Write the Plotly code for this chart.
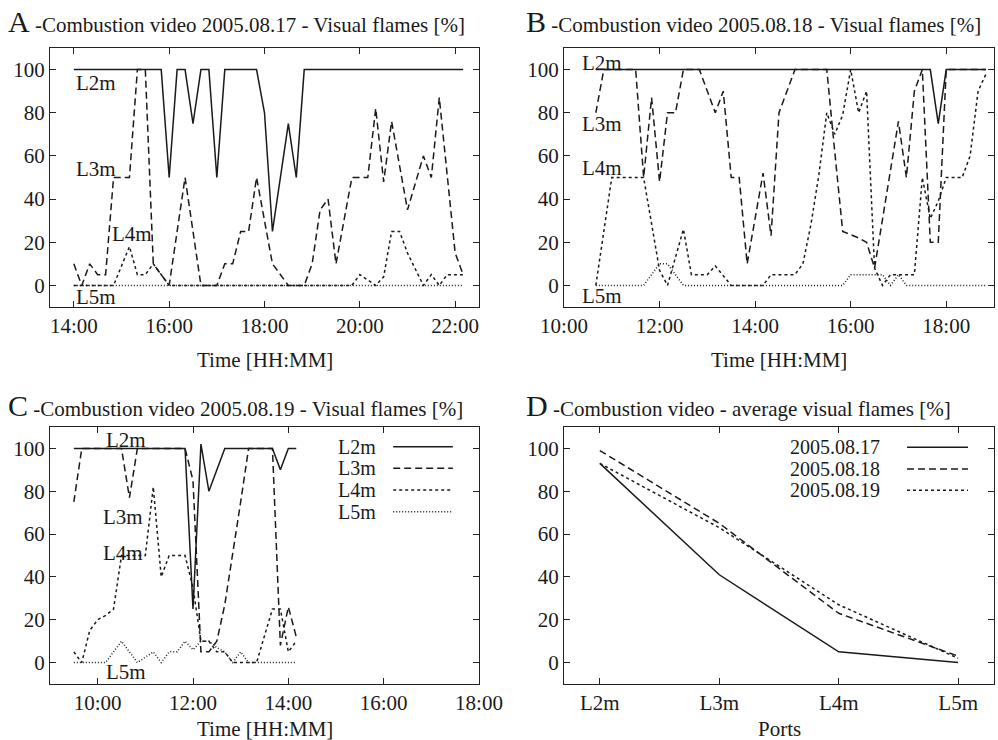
import plotly.graph_objects as go

FONT = "Liberation Serif"
INK = "#1a1a1a"

# ---------------- Panel A : 2005.08.17 ----------------
A_DATE = "2005-08-17"
A_L2m_t = ["14:00", "15:50", "16:00", "16:10", "16:20", "16:30", "16:40", "16:50", "17:00", "17:10",
           "17:50", "18:00", "18:10", "18:30", "18:40", "18:50", "22:10"]
A_L2m_v = [100, 100, 50, 100, 100, 75, 100, 100, 50, 100, 100, 80, 25, 75, 50, 100, 100]
A_L3m_t = ["14:00", "14:10", "14:20", "14:30", "14:40", "14:50", "15:10", "15:20", "15:30", "15:40",
           "16:00", "16:20", "16:40", "17:00", "17:10", "17:20", "17:30", "17:40", "17:50", "18:10",
           "18:30", "18:50", "19:00", "19:10", "19:20", "19:30", "19:50", "20:10", "20:20", "20:30",
           "20:40", "21:00", "21:20", "21:30", "21:40", "22:00", "22:10"]
A_L3m_v = [10, 0, 10, 5, 5, 50, 50, 100, 100, 10,
           0, 50, 0, 0, 10, 10, 25, 25, 50, 10,
           0, 0, 10, 35, 40, 10, 50, 50, 82, 48,
           76, 35, 60, 50, 87, 15, 5]
A_L4m_t = ["14:00", "14:50", "15:10", "15:20", "15:30", "15:40", "16:00", "19:50", "20:00", "20:20",
           "20:30", "20:40", "20:50", "21:00", "21:20", "21:30", "21:40", "21:50", "22:10"]
A_L4m_v = [0, 0, 18, 5, 5, 10, 0, 0, 5, 0, 4, 25, 25, 15, 0, 5, 0, 5, 5]
A_L5m_t = ["14:00", "22:10"]
A_L5m_v = [0, 0]

# ---------------- Panel B : 2005.08.18 ----------------
B_DATE = "2005-08-18"
B_L2m_t = ["10:40", "17:40", "17:50", "18:00", "18:50"]
B_L2m_v = [100, 100, 75, 100, 100]
B_L3m_t = ["10:40", "10:50", "11:30", "11:40", "11:50", "12:00", "12:10", "12:20", "12:30", "12:50",
           "13:10", "13:20", "13:30", "13:40", "13:50", "14:10", "14:20", "14:30", "14:50", "15:30",
           "15:40", "15:50", "16:10", "16:20", "16:30", "17:00", "17:10", "17:20", "17:30", "17:40",
           "17:50", "18:00", "18:50"]
B_L3m_v = [80, 100, 100, 50, 87, 48, 80, 80, 100, 100,
           80, 90, 50, 50, 10, 52, 23, 80, 100, 100,
           62, 25, 22, 20, 8, 76, 50, 90, 100, 20,
           20, 100, 100]
B_L4m_t = ["10:40", "11:00", "11:40", "12:00", "12:10", "12:30", "12:40", "13:00", "13:10", "13:30",
           "14:10", "14:20", "14:50", "15:00", "15:10", "15:20", "15:30", "15:40", "15:50", "16:00",
           "16:10", "16:20", "16:30", "16:40", "16:50", "17:20", "17:30", "17:40", "17:50", "18:00",
           "18:20", "18:30", "18:40", "18:50"]
B_L4m_v = [0, 50, 50, 7, 0, 26, 5, 5, 9, 0,
           0, 5, 5, 10, 28, 51, 80, 70, 79, 100,
           80, 90, 8, 0, 5, 5, 50, 31, 39, 50,
           50, 60, 90, 98]
B_L5m_t = ["10:40", "11:40", "12:00", "12:10", "12:30", "15:50", "16:00", "16:40", "16:50", "17:00",
           "17:10", "18:50"]
B_L5m_v = [0, 0, 10, 10, 0, 0, 5, 5, 0, 5, 0, 0]

# ---------------- Panel C : 2005.08.19 ----------------
C_DATE = "2005-08-19"
C_L2m_t = ["09:30", "11:50", "12:00", "12:10", "12:20", "12:40", "13:40", "13:50", "14:00", "14:10"]
C_L2m_v = [100, 100, 25, 102, 80, 100, 100, 90, 100, 100]
C_L3m_t = ["09:30", "09:40", "10:30", "10:40", "10:50", "11:50", "12:00", "12:10", "12:20", "12:30",
           "12:40", "12:50", "13:00", "13:10", "13:40", "13:50", "14:00", "14:10"]
C_L3m_v = [75, 100, 100, 77, 100, 100, 85, 5, 5, 10, 27, 50, 75, 100, 100, 8, 26, 12]
C_L4m_t = ["09:30", "09:40", "09:50", "10:00", "10:10", "10:20", "10:30", "11:00", "11:10", "11:20",
           "11:30", "11:50", "12:00", "12:10", "12:20", "12:30", "12:40", "12:50", "13:20", "13:40",
           "13:50", "14:00", "14:10"]
C_L4m_v = [5, 0, 15, 20, 22, 25, 50, 50, 82, 40,
           50, 50, 35, 10, 10, 5, 5, 0, 0, 25,
           25, 5, 10]
C_L5m_t = ["09:30", "10:10", "10:30", "10:50", "11:10", "11:20", "11:30", "11:40", "11:50", "12:00",
           "12:10", "12:20", "12:30", "12:40", "12:50", "13:00", "13:10", "14:10"]
C_L5m_v = [0, 0, 10, 0, 5, 0, 5, 5, 10, 6, 10, 10, 7, 5, 0, 5, 0, 0]

# ---------------- Panel D : averages ----------------
PORTS = ["L2m", "L3m", "L4m", "L5m"]
D_0817 = [93, 41, 5, 0]
D_0818 = [99, 65, 23, 3]
D_0819 = [93, 63, 27, 2]
D_NAMES = ["2005.08.17", "2005.08.18", "2005.08.19"]

SERIES_NAMES = ["L2m", "L3m", "L4m", "L5m"]
DASHES = ["solid", "7px,4px", "3px,3px", "1px,2px"]

fig = go.Figure()


def stamp(date, times):
    return [f"{date} {t}" for t in times]


panels = [
    ("x", "y", A_DATE, [(A_L2m_t, A_L2m_v), (A_L3m_t, A_L3m_v), (A_L4m_t, A_L4m_v), (A_L5m_t, A_L5m_v)]),
    ("x2", "y2", B_DATE, [(B_L2m_t, B_L2m_v), (B_L3m_t, B_L3m_v), (B_L4m_t, B_L4m_v), (B_L5m_t, B_L5m_v)]),
    ("x3", "y3", C_DATE, [(C_L2m_t, C_L2m_v), (C_L3m_t, C_L3m_v), (C_L4m_t, C_L4m_v), (C_L5m_t, C_L5m_v)]),
]
for xa, ya, date, series in panels:
    for name, dash, (t, v) in zip(SERIES_NAMES, DASHES, series):
        fig.add_trace(go.Scatter(x=stamp(date, t), y=v, mode="lines", name=name, xaxis=xa, yaxis=ya,
                                 line=dict(color=INK, width=1.5, dash=dash), showlegend=False))

for name, dash, vals in zip(D_NAMES, DASHES[:3], [D_0817, D_0818, D_0819]):
    fig.add_trace(go.Scatter(x=PORTS, y=vals, mode="lines", name=name, xaxis="x4", yaxis="y4",
                             line=dict(color=INK, width=1.5, dash=dash), showlegend=False))

W, H = 998, 740
def px_x(a, b):
    return [a / W, b / W]
def px_y(top, bottom):
    return [1 - bottom / H, 1 - top / H]

axis_common = dict(showline=True, linewidth=1.3, linecolor="#222", mirror="allticks", ticks="inside",
                   ticklen=6, tickwidth=1.2, tickcolor="#222", showgrid=False, zeroline=False,
                   automargin=False, tickfont=dict(family=FONT, size=21, color=INK))
yaxis_common = dict(axis_common, range=[-10, 110], tickvals=[0, 20, 40, 60, 80, 100])
time_common = dict(axis_common, type="date", tickformat="%H:%M", dtick=7200000)

fig.update_layout(
    width=W, height=H, autosize=False, margin=dict(l=0, r=0, t=0, b=0),
    paper_bgcolor="white", plot_bgcolor="white",
    xaxis=dict(time_common, domain=px_x(50, 479), anchor="y", tick0=f"{A_DATE} 00:00",
               range=[f"{A_DATE} 13:30", f"{A_DATE} 22:30"]),
    yaxis=dict(yaxis_common, domain=px_y(48, 307), anchor="x"),
    xaxis2=dict(time_common, domain=px_x(564, 994), anchor="y2", tick0=f"{B_DATE} 00:00",
                range=[f"{B_DATE} 10:00", f"{B_DATE} 19:00"]),
    yaxis2=dict(yaxis_common, domain=px_y(48, 307), anchor="x2"),
    xaxis3=dict(time_common, domain=px_x(50, 479), anchor="y3", tick0=f"{C_DATE} 00:00",
                range=[f"{C_DATE} 09:00", f"{C_DATE} 18:00"]),
    yaxis3=dict(yaxis_common, domain=px_y(427, 684), anchor="x3"),
    xaxis4=dict(axis_common, domain=px_x(564, 994), anchor="y4", type="category", range=[-0.3, 3.3]),
    yaxis4=dict(yaxis_common, domain=px_y(427, 684), anchor="x4"),
)

ann = []
def txt(text, x, y, xref, yref, xanchor="left", size=21):
    ann.append(dict(text=text, x=x, y=y, xref=xref, yref=yref, xanchor=xanchor, yanchor="middle",
                    showarrow=False, font=dict(family=FONT, size=size, color=INK)))

# titles
titles = [("A", "-Combustion video 2005.08.17 - Visual flames [%]", 6, 21),
          ("B", "-Combustion video 2005.08.18 - Visual flames [%]", 524, 21),
          ("C", "-Combustion video 2005.08.19 - Visual flames [%]", 6, 406),
          ("D", "-Combustion video - average visual flames [%]", 524, 406)]
for letter, rest, xp, yp in titles:
    txt(f"<span style='font-size:30px'>{letter}</span> {rest}", xp / W, 1 - yp / H, "paper", "paper", size=21)

# axis titles
txt("Time [HH:MM]", (50 + 479) / 2 / W, 1 - 360 / H, "paper", "paper", xanchor="center")
txt("Time [HH:MM]", (564 + 994) / 2 / W, 1 - 360 / H, "paper", "paper", xanchor="center")
txt("Time [HH:MM]", (50 + 479) / 2 / W, 1 - 729 / H, "paper", "paper", xanchor="center")
txt("Ports", (564 + 994) / 2 / W, 1 - 729 / H, "paper", "paper", xanchor="center")

# in-plot port labels
A_LAB = [("L2m", "14:00", 94), ("L3m", "14:00", 54), ("L4m", "14:45", 24), ("L5m", "14:00", -5.5)]
B_LAB = [("L2m", "10:20", 103), ("L3m", "10:20", 75), ("L4m", "10:20", 54.5), ("L5m", "10:20", -5)]
C_LAB = [("L2m", "10:08", 104), ("L3m", "10:04", 68), ("L4m", "10:04", 51), ("L5m", "10:08", -4.5)]
for labs, date, xr, yr in [(A_LAB, A_DATE, "x", "y"), (B_LAB, B_DATE, "x2", "y2"), (C_LAB, C_DATE, "x3", "y3")]:
    for name, t, yv in labs:
        txt(name, f"{date} {t}", yv, xr, yr)

# gnuplot-style keys (text left, sample right)
shapes = []
def key(names, dashes, xref, yref, text_x, x0, x1, rows):
    for name, dash, yy in zip(names, dashes, rows):
        txt(name, text_x, yy, xref, yref, xanchor="right", size=20)
        shapes.append(dict(type="line", xref=xref, yref=yref, x0=x0, x1=x1, y0=yy, y1=yy,
                           line=dict(color=INK, width=1.5, dash=dash)))

key(SERIES_NAMES, DASHES, "x3 domain", "y3 domain", 0.7646, 0.80, 0.939, [0.9227, 0.8399, 0.7544, 0.67])
key(D_NAMES, DASHES[:3], "x4 domain", "y4 domain", 0.7395, 0.7977, 0.9395, [0.921, 0.837, 0.754])

fig.update_layout(annotations=ann, shapes=shapes)
fig.write_html("out.html", config={"displayModeBar": False},
               post_script="document.body.style.margin='0';document.body.style.overflow='hidden';")
